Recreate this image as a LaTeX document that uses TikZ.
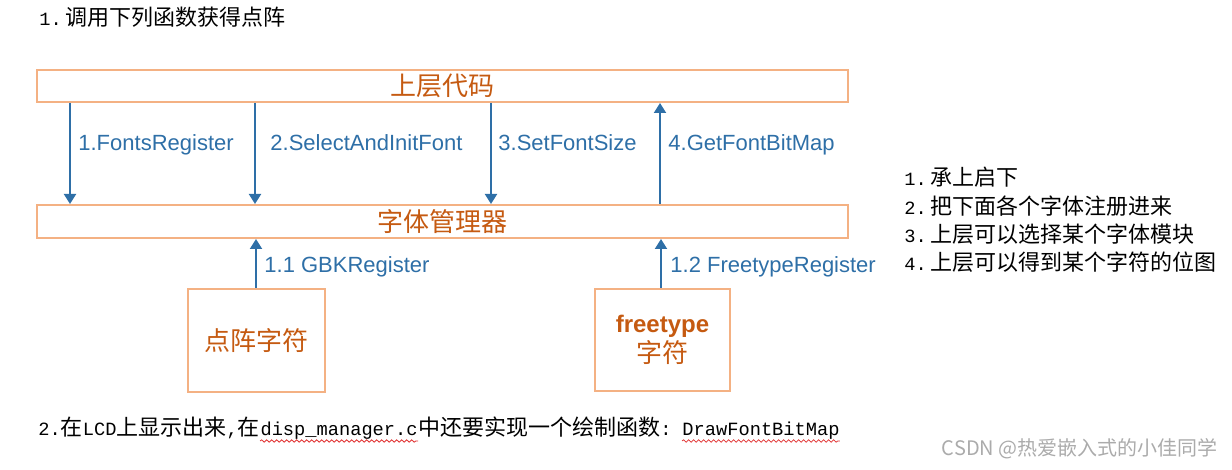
\documentclass[tikz,border=0pt]{standalone}
\usepackage{fontspec}
\usetikzlibrary{arrows.meta,decorations.pathmorphing}
\newfontfamily\cjk{Noto Sans CJK SC}
\newfontfamily\arial{Liberation Sans}
\newfontfamily\smono[Scale=0.85]{Liberation Mono}
\definecolor{boxc}{HTML}{F4B183}
\definecolor{brownc}{HTML}{C55A11}
\definecolor{bluec}{HTML}{2E6FA7}
\definecolor{wmc}{HTML}{ABABAB}
\definecolor{wavyc}{HTML}{E03030}
\begin{document}
\begin{tikzpicture}[x=0.5pt,y=-0.5pt,
  box/.style={draw=boxc,line width=1pt,inner sep=0pt},
  arr/.style={draw=bluec,line width=1pt,-{Triangle[width=6pt,length=5pt]}},
  lbl/.style={anchor=base west,inner sep=0pt,text=bluec,font=\arial\fontsize{11pt}{13pt}\selectfont},
  btxt/.style={text=brownc,font=\cjk\fontsize{13pt}{15pt}\selectfont},
  note/.style={anchor=base west,inner sep=0pt,font=\cjk\fontsize{11pt}{13pt}\selectfont},
  wavy/.style={draw=wavyc,line width=0.4pt,decorate,decoration={snake,amplitude=0.6pt,segment length=2.5pt}}]
\useasboundingbox (0,0) rectangle (1232,470);

% title
\node[note] (title) at (39,26) {{\smono 1.}\hspace{2pt}调用下列函数获得点阵};

% boxes
\node[box,btxt,minimum width=405.5pt,minimum height=16pt] (top) at (442.5,86) {上层代码};
\node[box,btxt,minimum width=405.5pt,minimum height=16.5pt] (mid) at (442.5,221.5) {字体管理器};
\node[box,btxt,minimum width=68.5pt,minimum height=51.5pt] (dz) at (256.5,340.5) {点阵字符};
\node[box,btxt,align=center,minimum width=67.5pt,minimum height=51pt] (ft) at (662.5,340)
  {{\arial\bfseries\fontsize{12pt}{15pt}\selectfont freetype}\\字符};

% x positions of connectors
\coordinate (c1) at (70,0);
\coordinate (c2) at (255,0);
\coordinate (c3) at (491,0);
\coordinate (c4) at (660,0);
\coordinate (c5) at (256,0);
\coordinate (c6) at (661,0);

\draw[arr] (top.south -| c1) -- (mid.north -| c1);
\draw[arr] (top.south -| c2) -- (mid.north -| c2);
\draw[arr] (top.south -| c3) -- (mid.north -| c3);
\draw[arr] (mid.north -| c4) -- (top.south -| c4);
\draw[arr] (dz.north -| c5) -- (mid.south -| c5);
\draw[arr] (ft.north -| c6) -- (mid.south -| c6);

% labels
\node[lbl] (l1) at (78,151) {1.FontsRegister};
\node[lbl] (l2) at (270,151) {2.SelectAndInitFont};
\node[lbl] (l3) at (498,151) {3.SetFontSize};
\node[lbl] (l4) at (668,151) {4.GetFontBitMap};
\node[lbl] (l5) at (264,273) {1.1 GBKRegister};
\node[lbl] (l6) at (670,273) {1.2 FreetypeRegister};

% notes
\node[note] (n1) at (904,186) {{\smono 1.}\hspace{2pt}承上启下};
\node[note] (n2) at (904,214.5) {{\smono 2.}\hspace{2pt}把下面各个字体注册进来};
\node[note] (n3) at (904,243) {{\smono 3.}\hspace{2pt}上层可以选择某个字体模块};
\node[note] (n4) at (904,271) {{\smono 4.}\hspace{2pt}上层可以得到某个字符的位图};

% bottom line
\node[note] (b1) at (38,436) {{\smono 2.}在{\smono LCD}上显示出来{\smono ,}在};
\node[note] (b2) at (b1.base east) {\smono disp\_manager.c};
\node[note] (b3) at (b2.base east) {中还要实现一个绘制函数{\smono :}\hspace{5pt}\null};
\node[note] (b4) at (b3.base east) {\smono DrawFontBitMap};
\draw[wavy] ([yshift=-2.5pt]b2.base west) -- ([yshift=-2.5pt]b2.base east);
\draw[wavy] ([yshift=-2.5pt]b4.base west) -- ([yshift=-2.5pt]b4.base east);

% watermark
\node[anchor=base east,inner sep=0pt,text=wmc,font=\cjk\fontsize{10pt}{12pt}\selectfont] (wm) at (1218,455) {CSDN @热爱嵌入式的小佳同学};
\end{tikzpicture}
\end{document}
